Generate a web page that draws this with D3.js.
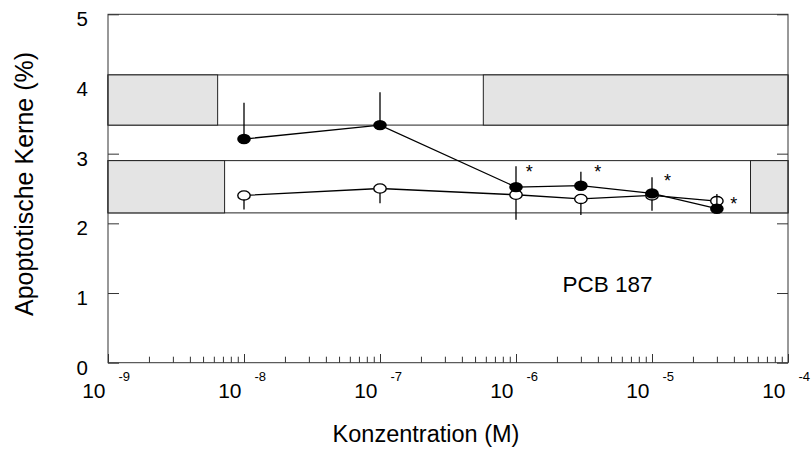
<!DOCTYPE html>
<html>
<head>
<meta charset="utf-8">
<script src="https://cdn.jsdelivr.net/npm/d3@7"></script>
<style>
  html, body { margin: 0; padding: 0; background: #fff; }
  svg { display: block; font-family: "Liberation Sans", Arial, sans-serif; }
</style>
</head>
<body>
<div id="chart"></div>
<script>
// concentrations (M) and measured values
const concentrations = [1e-8, 1e-7, 1e-6, 3e-6, 1e-5, 3e-5];
const filledMeans = [3.21, 3.41, 2.52, 2.54, 2.43, 2.21];
const filledErrors = [0.52, 0.47, 0.30, 0.20, 0.23, 0.21];
const openMeans = [2.40, 2.50, 2.41, 2.35, 2.40, 2.32];
const openErrors = [0.20, 0.21, 0.36, 0.23, 0.22, 0.10];

// significance marks
const starConc = [1.25e-6, 4e-6, 1.3e-5, 4e-5];
const starValues = [2.79, 2.80, 2.66, 2.33];

// control bands (upper = filled, lower = open)
const bandLow = [3.41, 2.15];
const bandHigh = [4.13, 2.90];
const greyLeftEnd = [6.4e-9, 7.2e-9];
const greyRightStart = [5.75e-7, 5.3e-5];

const yTicks = [0, 1, 2, 3, 4, 5];
const xExponents = [-9, -8, -7, -6, -5, -4];

const W = 812, H = 449;
const margin = { top: 14.3, right: 24, bottom: 86.3, left: 108 };

const svg = d3.select('#chart').append('svg')
    .attr('width', W)
    .attr('height', H);

const x = d3.scaleLog()
    .domain([1e-9, 1e-4])
    .range([margin.left, W - margin.right]);
const y = d3.scaleLinear()
    .domain([0, 5])
    .range([H - margin.bottom, margin.top]);

const axisColor = '#333';

// ticks (inward)
const allTicks = x.ticks();
const majorTicks = allTicks.filter(d => Math.abs(Math.log10(d) - Math.round(Math.log10(d))) < 1e-9);
const minorTicks = allTicks.filter(d => !majorTicks.includes(d));

function styleAxis(g) {
    g.select('.domain').remove();
    g.selectAll('.tick line').attr('stroke', axisColor).attr('stroke-width', 1);
}

svg.append('g')
    .attr('transform', `translate(0,${y(0)})`)
    .call(d3.axisBottom(x).tickValues(minorTicks).tickSize(-6).tickSizeOuter(0).tickFormat(''))
    .call(styleAxis);
svg.append('g')
    .attr('transform', `translate(0,${y(0)})`)
    .call(d3.axisBottom(x).tickValues(majorTicks).tickSize(-8.7).tickSizeOuter(0).tickFormat(''))
    .call(styleAxis);

const yAxis = svg.append('g')
    .attr('transform', `translate(${x(1e-9)},0)`)
    .call(d3.axisLeft(y).tickValues(yTicks).tickSize(-11).tickSizeOuter(0).tickPadding(20).tickFormat(d3.format('d')))
    .call(styleAxis);
yAxis.selectAll('text')
    .attr('font-size', 20.5)
    .attr('font-family', '"Liberation Sans", Arial, sans-serif')
    .attr('fill', '#000')
    .attr('dy', '0.56em');

svg.append('g')
    .attr('transform', `translate(${x(1e-4)},0)`)
    .call(d3.axisRight(y).tickValues(yTicks).tickSize(-11).tickSizeOuter(0).tickFormat(''))
    .call(styleAxis);

// control bands
bandLow.forEach((lo, i) => {
    const band = svg.append('g');
    band.append('rect')
        .attr('x', x(1e-9))
        .attr('y', y(bandHigh[i]))
        .attr('width', x(1e-4) - x(1e-9))
        .attr('height', y(lo) - y(bandHigh[i]))
        .attr('fill', '#fff')
        .attr('stroke', '#222')
        .attr('stroke-width', 1);
    [[1e-9, greyLeftEnd[i]], [greyRightStart[i], 1e-4]].forEach(([a, b]) => {
        band.append('rect')
            .attr('x', x(a))
            .attr('y', y(bandHigh[i]))
            .attr('width', x(b) - x(a))
            .attr('height', y(lo) - y(bandHigh[i]))
            .attr('fill', '#e4e4e4')
            .attr('stroke', '#222')
            .attr('stroke-width', 1);
    });
});

// frame
svg.append('rect')
    .attr('x', x(1e-9))
    .attr('y', y(5))
    .attr('width', x(1e-4) - x(1e-9))
    .attr('height', y(0) - y(5))
    .attr('fill', 'none')
    .attr('stroke', axisColor)
    .attr('stroke-width', 1);

// x tick labels: 10 with superscript exponent
const xLabels = svg.append('g')
    .attr('font-size', 21)
    .attr('fill', '#000');
xExponents.forEach(e => {
    const px = x(Math.pow(10, e));
    xLabels.append('text')
        .attr('x', px - 2.5)
        .attr('y', 398.3)
        .attr('text-anchor', 'end')
        .text('10');
    xLabels.append('text')
        .attr('x', px + 10.5)
        .attr('y', 381)
        .attr('font-size', 13)
        .text(String(e));
});

// series
const line = d3.line()
    .x(d => x(d.c))
    .y(d => y(d.v));

function drawSeries(means, errors, dir, filled) {
    const pts = concentrations.map((c, i) => ({ c, v: means[i], e: errors[i] }));
    const g = svg.append('g');
    g.append('path')
        .datum(pts)
        .attr('d', line)
        .attr('fill', 'none')
        .attr('stroke', '#000')
        .attr('stroke-width', 1.3);
    g.selectAll('.err')
        .data(pts)
        .enter().append('line')
        .attr('class', 'err')
        .attr('x1', d => x(d.c))
        .attr('x2', d => x(d.c))
        .attr('y1', d => y(d.v))
        .attr('y2', d => y(d.v + dir * d.e))
        .attr('stroke', '#000')
        .attr('stroke-width', 1.3);
    g.selectAll('.pt')
        .data(pts)
        .enter().append('ellipse')
        .attr('class', 'pt')
        .attr('cx', d => x(d.c))
        .attr('cy', d => y(d.v))
        .attr('rx', filled ? 6.8 : 6.2)
        .attr('ry', filled ? 5.2 : 4.6)
        .attr('fill', filled ? '#000' : '#fff')
        .attr('stroke', '#000')
        .attr('stroke-width', filled ? 0 : 1.4);
}

drawSeries(openMeans, openErrors, -1, false);
drawSeries(filledMeans, filledErrors, 1, true);

// significance stars
svg.append('g')
    .selectAll('text')
    .data(starConc.map((c, i) => ({ c, v: starValues[i] })))
    .enter().append('text')
    .attr('x', d => x(d.c))
    .attr('y', d => y(d.v) + 10)
    .attr('text-anchor', 'middle')
    .attr('font-size', 18)
    .attr('fill', '#000')
    .text('*');

// compound label
svg.append('text')
    .attr('x', x(2.2e-6))
    .attr('y', y(1.02))
    .attr('font-size', 22.5)
    .attr('fill', '#000')
    .text('PCB 187');

// axis titles
svg.append('text')
    .attr('x', 426)
    .attr('y', 441.7)
    .attr('text-anchor', 'middle')
    .attr('font-size', 23.5)
    .attr('fill', '#000')
    .text('Konzentration (M)');

svg.append('text')
    .attr('transform', `translate(33,184) rotate(-90)`)
    .attr('text-anchor', 'middle')
    .attr('font-size', 25)
    .attr('fill', '#000')
    .text('Apoptotische Kerne (%)');
</script>
</body>
</html>
